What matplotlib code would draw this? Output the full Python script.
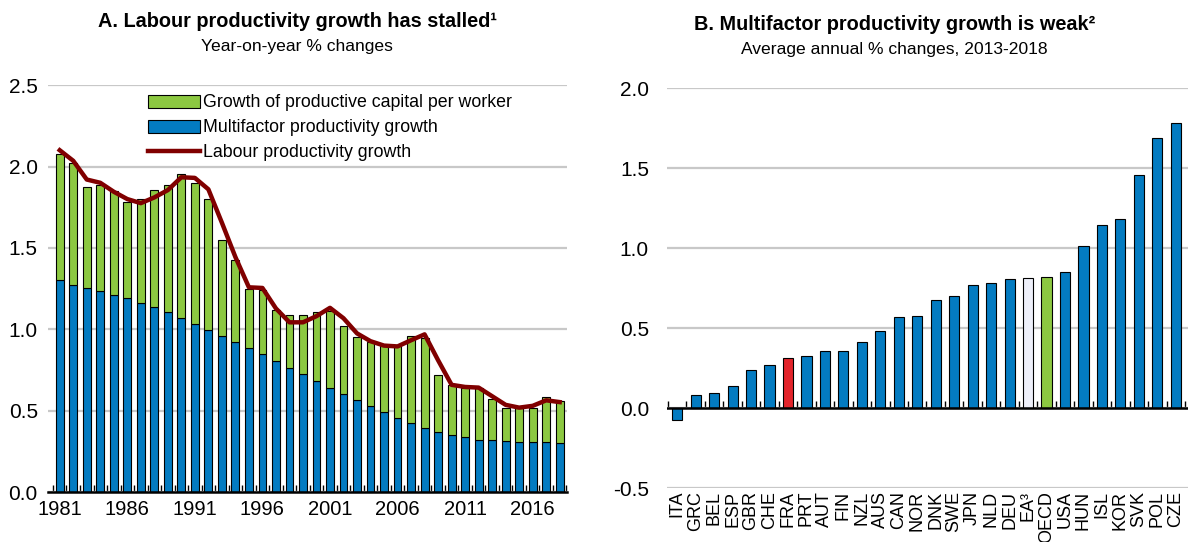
import numpy as np
import matplotlib
matplotlib.use("Agg")
import matplotlib.pyplot as plt
from matplotlib.patches import Patch
from matplotlib.lines import Line2D

plt.rcParams['font.family'] = ['Liberation Sans Narrow', 'Liberation Sans', 'DejaVu Sans']

# Panel A: labour productivity decomposition, 1981-2018
years = np.arange(1981, 2019)
mfp = [1.30, 1.275, 1.254, 1.233, 1.21, 1.19, 1.161, 1.136, 1.104, 1.07,
       1.033, 0.997, 0.959, 0.923, 0.883, 0.847, 0.807, 0.764, 0.726, 0.684,
       0.642, 0.604, 0.568, 0.526, 0.49, 0.456, 0.422, 0.393, 0.367, 0.35,
       0.336, 0.323, 0.319, 0.312, 0.31, 0.31, 0.308, 0.304]
total = [2.076, 2.02, 1.877, 1.888, 1.852, 1.782, 1.80, 1.854, 1.888, 1.953,
         1.90, 1.80, 1.55, 1.427, 1.246, 1.244, 1.117, 1.085, 1.09, 1.108,
         1.11, 1.018, 0.952, 0.921, 0.90, 0.906, 0.959, 0.948, 0.722, 0.659,
         0.642, 0.64, 0.572, 0.519, 0.515, 0.519, 0.585, 0.562]
labour = [2.10, 2.035, 1.92, 1.90, 1.845, 1.80, 1.775, 1.81, 1.855, 1.934,
          1.93, 1.86, 1.655, 1.444, 1.258, 1.254, 1.128, 1.043, 1.043, 1.081,
          1.132, 1.068, 0.975, 0.927, 0.90, 0.895, 0.933, 0.969, 0.81, 0.659,
          0.646, 0.642, 0.589, 0.536, 0.519, 0.53, 0.564, 0.553]
capital = [t - m for t, m in zip(total, mfp)]

# Panel B: multifactor productivity growth by country, 2013-2018
countries = ["ITA", "GRC", "BEL", "ESP", "GBR", "CHE", "FRA", "PRT", "AUT", "FIN",
             "NZL", "AUS", "CAN", "NOR", "DNK", "SWE", "JPN", "NLD", "DEU", "EA³",
             "OECD", "USA", "HUN", "ISL", "KOR", "SVK", "POL", "CZE"]
mfp_country = [-0.075, 0.082, 0.092, 0.138, 0.239, 0.269, 0.312, 0.327, 0.355, 0.357,
               0.415, 0.48, 0.57, 0.576, 0.677, 0.699, 0.77, 0.781, 0.804, 0.815,
               0.819, 0.852, 1.013, 1.142, 1.183, 1.458, 1.688, 1.783]

BLUE = "#037BC1"
GREEN = "#8CC841"
RED = "#E3242B"
LIGHT = "#EEF0FA"
DARKRED = "#800000"
GRID = "#C8C8C8"

fig = plt.figure(figsize=(11.89, 5.42), dpi=100)
ax1 = fig.add_axes([0.040, 0.092, 0.437, 0.751])
ax2 = fig.add_axes([0.561, 0.0996, 0.438, 0.738])

# ---- panel A
w = 0.58
ax1.bar(years, mfp, width=w, color=BLUE, edgecolor="black", linewidth=0.8, zorder=2)
ax1.bar(years, capital, width=w, bottom=mfp, color=GREEN, edgecolor="black", linewidth=0.8, zorder=2)
ax1.plot(years, labour, color=DARKRED, linewidth=3.2, zorder=3, solid_joinstyle="round")

ax1.set_ylim(0, 2.5)
ax1.set_xlim(1980.1, 2018.55)
ax1.set_yticks(np.arange(0, 2.51, 0.5))
ax1.set_yticklabels(["%.1f" % v for v in np.arange(0, 2.51, 0.5)])
ax1.set_xticks(years[::5])
ax1.set_xticks(np.arange(1980.5, 2019, 1), minor=True)
ax1.tick_params(axis="x", which="major", length=0, labelsize=14.5, pad=6)
ax1.tick_params(axis="x", which="minor", direction="in", length=5, width=1, color="black")
ax1.tick_params(axis="y", length=0, labelsize=15, pad=7)
ax1.grid(axis="y", color=GRID, linewidth=1.6, zorder=0)
ax1.set_axisbelow(True)
for s in ["left", "right", "top"]:
    ax1.spines[s].set_visible(False)
ax1.spines["bottom"].set_linewidth(1.8)

handles = [Patch(facecolor=GREEN, edgecolor="black", linewidth=0.8),
           Patch(facecolor=BLUE, edgecolor="black", linewidth=0.8),
           Line2D([0], [0], color=DARKRED, linewidth=3.2)]
names = ["Growth of productive capital per worker",
         "Multifactor productivity growth",
         "Labour productivity growth"]
ax1.legend(handles, names, loc="upper left", bbox_to_anchor=(0.18, 0.995), frameon=False,
           fontsize=12.8, handlelength=2.9, handleheight=0.75, handletextpad=0.2,
           labelspacing=0.45, borderaxespad=0)

fig.text(0.250, 0.960, "A. Labour productivity growth has stalled¹", ha="center", va="center",
         fontsize=14.3, fontweight="bold")
fig.text(0.250, 0.914, "Year-on-year % changes", ha="center", va="center", fontsize=12.6)

# ---- panel B
x = np.arange(len(countries))
colors = [BLUE] * len(countries)
colors[countries.index("FRA")] = RED
colors[countries.index("EA³")] = LIGHT
colors[countries.index("OECD")] = GREEN
ax2.bar(x, mfp_country, width=0.55, color=colors, edgecolor="black", linewidth=0.8, zorder=2)
ax2.axhline(0, color="black", linewidth=1.8, zorder=3)

ax2.set_ylim(-0.5, 2.0)
ax2.set_xlim(-0.55, len(countries) - 0.35)
ax2.set_yticks(np.arange(-0.5, 2.01, 0.5))
ax2.set_yticklabels(["%.1f" % v for v in np.arange(-0.5, 2.01, 0.5)])
ax2.set_xticks(x)
ax2.set_xticklabels(countries, rotation=90, fontsize=13,
                    family=['Liberation Sans', 'DejaVu Sans'])
ax2.tick_params(axis="x", length=0, pad=2)
ax2.tick_params(axis="y", length=0, labelsize=15, pad=13)
ax2.grid(axis="y", color=GRID, linewidth=1.6, zorder=0)
ax2.set_axisbelow(True)
for s in ["left", "right", "top", "bottom"]:
    ax2.spines[s].set_visible(False)

# tick marks between bars along the zero line
sec = ax2.secondary_xaxis(0.2)
sec.set_xticks(np.arange(-0.5, len(countries), 1))
sec.tick_params(direction="in", length=5, width=1, labelbottom=False)
sec.spines["bottom"].set_visible(False)

fig.text(0.752, 0.955, "B. Multifactor productivity growth is weak²", ha="center", va="center",
         fontsize=14.3, fontweight="bold")
fig.text(0.752, 0.909, "Average annual % changes, 2013-2018", ha="center", va="center", fontsize=12.6)

fig.savefig("out.png", dpi=100)
